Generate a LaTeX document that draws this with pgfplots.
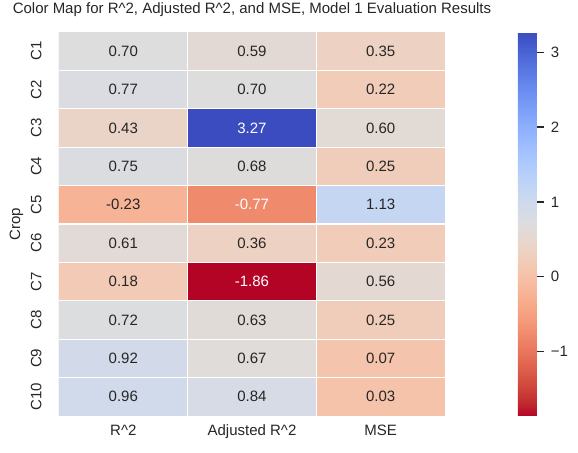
\documentclass[border=0pt]{standalone}
\usepackage{pgfplots}
\pgfplotsset{compat=1.18}
\usepackage{pgfplotstable}
\usepackage{fontspec}
\setmainfont{Liberation Sans}

\definecolor{ink}{HTML}{262626}

% x: metric column, y: crop row, v: value, w: 1 = label in white
\pgfplotstableread{
x y v w
0 0 0.70 0
1 0 0.59 0
2 0 0.35 0
0 1 0.77 0
1 1 0.70 0
2 1 0.22 0
0 2 0.43 0
1 2 3.27 1
2 2 0.60 0
0 3 0.75 0
1 3 0.68 0
2 3 0.25 0
0 4 -0.23 0
1 4 -0.77 1
2 4 1.13 0
0 5 0.61 0
1 5 0.36 0
2 5 0.23 0
0 6 0.18 0
1 6 -1.86 1
2 6 0.56 0
0 7 0.72 0
1 7 0.63 0
2 7 0.25 0
0 8 0.92 0
1 8 0.67 0
2 8 0.07 0
0 9 0.96 0
1 9 0.84 0
2 9 0.03 0
}\results

\newcommand\tickfont{\fontsize{10.8}{12}\selectfont}

\begin{document}
\begin{tikzpicture}
\path[use as bounding box] (-42.48pt,-26.64pt) rectangle (373.68pt,299.52pt);
\begin{axis}[
  scale only axis, width=277.92pt, height=276.48pt,
  xmin=-0.5, xmax=2.5, ymin=-0.5, ymax=9.5, y dir=reverse,
  axis line style={draw=none},
  axis on top,
  major tick length=0pt, minor tick length=0pt,
  xtick={0,1,2},
  xticklabels={{R\textasciicircum 2},{Adjusted R\textasciicircum 2},{MSE}},
  ytick={0,...,9},
  yticklabels={C1,C2,C3,C4,C5,C6,C7,C8,C9,C10},
  minor xtick={0.5,1.5},
  minor ytick={0.5,1.5,...,8.5},
  xminorgrids, yminorgrids,
  minor grid style={white, line width=0.75pt},
  xticklabel style={font=\tickfont, text=ink, yshift=-3pt},
  yticklabel style={font=\tickfont, text=ink, xshift=-9pt, rotate=90, anchor=south},
  ylabel={Crop},
  every axis y label/.style={at={(axis description cs:0,0.5)}, xshift=-30.6pt, rotate=90, anchor=center, font=\tickfont, text=ink},
  title={Color Map for R\textasciicircum 2, Adjusted R\textasciicircum 2, and MSE, Model 1 Evaluation Results},
  title style={at={(0.5,1)}, anchor=base, yshift=7.4pt, font=\fontsize{10.8}{12}\selectfont, text=ink},
  colormap={coolwarmr}{rgb255=(180,4,38) rgb255=(192,40,47) rgb255=(203,62,56) rgb255=(213,80,66) rgb255=(222,96,77) rgb255=(229,112,88) rgb255=(236,127,99) rgb255=(241,141,111) rgb255=(244,154,123) rgb255=(247,166,135) rgb255=(247,177,148) rgb255=(247,187,160) rgb255=(245,196,173) rgb255=(241,204,185) rgb255=(236,211,197) rgb255=(229,216,209) rgb255=(221,221,221) rgb255=(213,219,230) rgb255=(204,217,238) rgb255=(194,213,244) rgb255=(184,208,249) rgb255=(174,201,253) rgb255=(163,194,255) rgb255=(152,185,255) rgb255=(141,176,254) rgb255=(130,165,251) rgb255=(119,154,247) rgb255=(108,142,241) rgb255=(98,130,234) rgb255=(87,117,225) rgb255=(77,104,215) rgb255=(68,90,204) rgb255=(59,76,192)},
  point meta min=-1.86, point meta max=3.27,
  colorbar,
  colorbar style={
    at={(parent axis.north east)}, anchor=north west, xshift=44pt,
    width=13.68pt,
    axis line style={draw=none},
    ytick={-1,0,1,2,3},
    yticklabels={−1,0,1,2,3},
    ytick pos=right, tick align=outside,
    major tick length=5pt,
    tick style={ink, line width=0.9pt},
    yticklabel style={font=\tickfont, text=ink, xshift=1.5pt},
  },
]
\addplot[matrix plot*, mesh/cols=3, point meta=explicit] table[x=x, y=y, meta=v] {\results};
\addplot[draw=none, mark=none, point meta=explicit,
  visualization depends on={\thisrow{w} \as \wt},
  nodes near coords={\ifdim\wt pt>0.5pt\color{white}\fi\pgfmathprintnumber[fixed, fixed zerofill, precision=2, assume math mode=true]{\pgfplotspointmeta}},
  nodes near coords align={center},
  every node near coord/.append style={font=\tickfont, text=ink, anchor=center},
] table[x=x, y=y, meta=v] {\results};
\end{axis}
\end{tikzpicture}
\end{document}
